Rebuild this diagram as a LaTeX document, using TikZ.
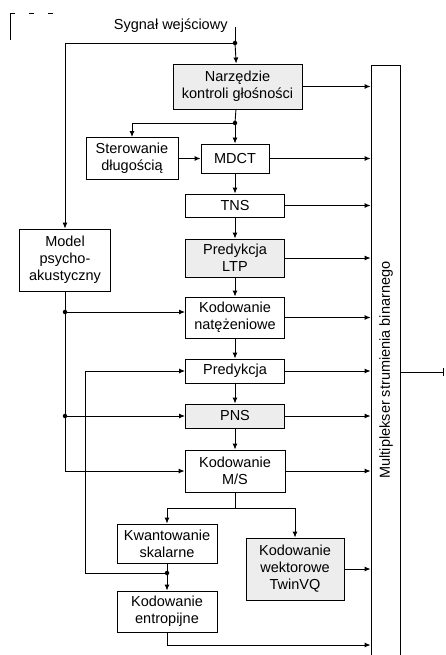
\documentclass[tikz,border=0pt]{standalone}
\usepackage{fontspec}
\setmainfont{Liberation Sans}
\usetikzlibrary{arrows.meta}
\tikzset{
  blok/.style={draw, align=center, inner sep=0pt, font=\fontsize{14.5}{17}\selectfont},
  szary/.style={blok, fill=black!7},
  kropka/.style={circle, fill, inner sep=0pt, minimum size=4.5pt},
  strz/.style={-{Latex[length=6pt,width=5pt]}}
}
\begin{document}
\begin{tikzpicture}[x=1pt, y=-1pt, line width=0.9pt]
  \useasboundingbox (0,0) rectangle (445,655);
  % fragment ramki w rogu
  \draw (10,40) -- (10,13);
  \draw[dash pattern=on 5pt off 14pt] (10,13) -- (60,13) -- (60,16);
  % bloki
  \node[szary, minimum width=129pt, minimum height=45pt] (glos) at (237.5,86.5) {Narzędzie\\kontroli głośności};
  \node[blok, minimum width=92pt, minimum height=42pt] (ster) at (132,158.5) {Sterowanie\\długością};
  \node[blok, minimum width=68pt, minimum height=29pt] (mdct) at (235,158.5) {MDCT};
  \node[blok, minimum width=99pt, minimum height=23pt] (tns) at (235,205.5) {TNS};
  \node[blok, minimum width=91pt, minimum height=62pt] (model) at (65,260) {Model\\psycho-\\akustyczny};
  \node[szary, minimum width=99pt, minimum height=38pt] (ltp) at (235,258) {Predykcja\\LTP};
  \node[blok, minimum width=99pt, minimum height=41pt] (nat) at (235,317.5) {Kodowanie\\natężeniowe};
  \node[blok, minimum width=99pt, minimum height=24pt] (pred) at (235,371) {Predykcja};
  \node[szary, minimum width=99pt, minimum height=24pt] (pns) at (235,416) {PNS};
  \node[blok, minimum width=100pt, minimum height=42pt] (ms) at (235,471) {Kodowanie\\M/S};
  \node[blok, minimum width=100pt, minimum height=39pt] (kwant) at (167,543.5) {Kwantowanie\\skalarne};
  \node[szary, minimum width=98pt, minimum height=62pt] (twin) at (295,569) {Kodowanie\\wektorowe\\TwinVQ};
  \node[blok, minimum width=100pt, minimum height=41pt] (entr) at (167,611.5) {Kodowanie\\entropijne};
  \node[draw, minimum width=29pt, minimum height=620pt, anchor=north] (mux) at (385.5,65) {};
  \node[rotate=90, font=\fontsize{14.5}{17}\selectfont] (muxtxt) at (386,370) {Multiplekser strumienia binarnego};
  % wejscie
  \coordinate (we) at (235,27);
  \coordinate (j1) at (235,43);
  \coordinate (j2) at (235,123);
  \node[anchor=east, inner sep=0pt, font=\fontsize{14.5}{17}\selectfont] (wetxt) at (228,26) {Sygnał wejściowy};
  \draw (we) -- (j1);
  \draw[strz] (j1) -- (glos);
  \draw[strz] (j1) -| (model.north);
  \draw (glos) -- (j2);
  \draw[strz] (j2) -- (mdct);
  \draw[strz] (j2) -| (ster.north);
  \draw[strz] (ster) -- (mdct);
  \node[kropka] at (j1) {};
  \node[kropka] at (j2) {};
  % glowny tor
  \foreach \a/\b in {mdct/tns, tns/ltp, ltp/nat, nat/pred, pred/pns, pns/ms}
    \draw[strz] (\a) -- (\b);
  \foreach \n in {glos, mdct, tns, ltp, nat, pred, pns, ms, twin}
    \draw[strz] (\n.east) -- (\n.east -| mux.west);
  % model psychoakustyczny
  \coordinate (m1) at (65,312);
  \coordinate (m2) at (65,416);
  \coordinate (m3) at (65,471);
  \draw (model) -- (m3);
  \draw[strz] (m1) -- (m1 -| nat.west);
  \draw[strz] (m2) -- (pns);
  \draw[strz] (m3) -- (ms);
  \node[kropka] at (m1) {};
  \node[kropka] at (m2) {};
  % kwantowanie
  \coordinate (r) at (235,508);
  \coordinate (j3) at (167,573);
  \coordinate (p1) at (85,573);
  \coordinate (e1) at (167,645);
  \draw (ms) -- (r);
  \draw[strz] (r) -| (kwant.north);
  \draw[strz] (r) -| (twin.north);
  \draw (kwant) -- (j3);
  \draw[strz] (j3) -- (entr);
  \draw[strz] (j3) -- (p1) |- (pred.west);
  \node[kropka] at (j3) {};
  \draw[strz] (entr) -- (e1) -- (e1 -| mux.west);
  % wyjscie
  \coordinate (wy) at (443,372);
  \draw (mux.east |- wy) -- (wy);
  \draw (wy) ++(0,-4) -- ++(0,8);
\end{tikzpicture}
\end{document}
